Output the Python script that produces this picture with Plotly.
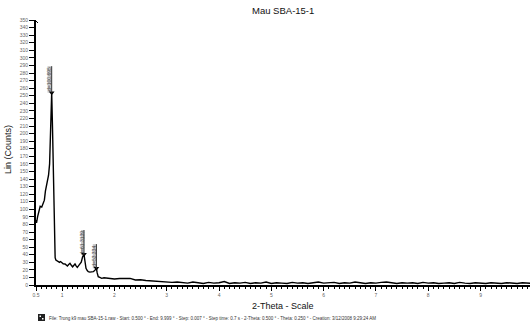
import plotly.graph_objects as go

# ---- data ----
two_theta_low = [0.50, 0.51, 0.53, 0.56, 0.58, 0.61, 0.64, 0.66, 0.68, 0.70, 0.72, 0.74, 0.76,
                 0.775, 0.79, 0.80, 0.815, 0.83, 0.845, 0.858, 0.866, 0.88, 0.907, 0.926, 0.95,
                 0.97, 0.99, 1.02, 1.055, 1.08, 1.10, 1.125, 1.15, 1.175, 1.20, 1.225, 1.246,
                 1.27, 1.29, 1.315, 1.34, 1.365, 1.39, 1.405, 1.418, 1.435, 1.456, 1.48, 1.50,
                 1.53, 1.56, 1.596, 1.62, 1.64, 1.655, 1.67, 1.69, 1.72, 1.756, 1.80]
counts_low = [86, 82, 90, 100, 104, 103, 108, 112, 124, 132, 137, 145, 160,
              190, 225, 254, 210, 150, 95, 55, 36, 33, 32, 31.5, 30,
              31, 29.5, 28, 27.7, 26, 25, 27, 28.6, 26, 24, 26, 27.7,
              25, 23.3, 25.5, 27.7, 30, 37, 39.5, 40.5, 32, 22, 19, 17.6,
              17, 17.4, 17.6, 19, 21, 22, 16, 11, 10, 8.8, 9.5]

two_theta_high = [round(1.9 + 0.1 * i, 2) for i in range(82)]
counts_high = [9, 8, 8.5, 9, 8.8, 6.6, 7, 6, 5.5, 5, 4.5, 3.5,
               3.5, 4, 3, 2.5, 4, 3, 2, 3.5, 2.5, 3, 4.5, 2, 3,
               2.5, 3.5, 2, 3, 2.5, 4, 2, 3, 2.5, 2, 3.5, 2.5, 3,
               2, 3, 4, 2.5, 3, 3.5, 2, 3, 2.5, 4, 3, 2, 3,
               2.5, 3.5, 4, 3, 2, 3, 2.5, 3, 2, 3.5, 2.5, 3,
               2, 2.5, 3, 2, 3.5, 2.5, 2, 3, 2.5, 2, 3, 2.5,
               2, 3, 2.5, 2, 3, 2.5, 2]

peak_x = [0.80, 1.418, 1.655]
peak_y = [254, 40.5, 22]
peak_labels = ["d=100.695", "d=61.3139", "d=53.334"]
box_left = [0.72, 1.36, 1.585]
box_top = [289, 72.6, 54]

x_tickvals = [0.5, 1, 2, 3, 4, 5, 6, 7, 8, 9]
x_ticktext = ["0.5", "1", "2", "3", "4", "5", "6", "7", "8", "9"]

title_text = "Mau SBA-15-1"
x_title = "2-Theta - Scale"
y_title = "Lin (Counts)"
footer = ("File: Trong k9 mau SBA-15-1.raw - Start: 0.500 \u00b0 - End: 9.999 \u00b0 - Step: 0.007 \u00b0 - "
          "Step time: 0.7 s - 2-Theta: 0.500 \u00b0 - Theta: 0.250 \u00b0 - Creation: 3/12/2008 9:29:24 AM")

W, H = 530, 324
L, R, T, B = 36, 0, 20, 39
pw, ph = W - L - R, H - T - B


def px(x):
    return (x - L) / pw


def py(y):
    return (H - B - y) / ph


fig = go.Figure()
fig.add_trace(go.Scatter(x=two_theta_low + two_theta_high, y=counts_low + counts_high,
                         mode="lines", line=dict(color="black", width=1.4),
                         showlegend=False, hoverinfo="skip"))

shapes = []
annotations = []
for i in range(len(peak_x)):
    shapes.append(dict(type="rect", xref="x", yref="y", x0=box_left[i], x1=peak_x[i],
                       y0=peak_y[i], y1=box_top[i], fillcolor="#c8c8c8",
                       line=dict(width=0), layer="below"))
    shapes.append(dict(type="line", xref="x", yref="y", x0=peak_x[i], x1=peak_x[i],
                       y0=peak_y[i], y1=box_top[i], line=dict(color="#333", width=1)))
    annotations.append(dict(x=(box_left[i] + peak_x[i]) / 2, y=(peak_y[i] + box_top[i]) / 2,
                            xref="x", yref="y", text=peak_labels[i], textangle=-90,
                            xanchor="center", yanchor="middle",
                            showarrow=False, font=dict(size=5, color="#444", family="Liberation Sans")))

fig.add_trace(go.Scatter(x=peak_x, y=peak_y, mode="markers",
                         marker=dict(symbol="triangle-down", size=5, color="black"),
                         showlegend=False, hoverinfo="skip"))

# title and axis titles
annotations.append(dict(x=px(283), y=py(10), xref="paper", yref="paper", text=title_text,
                        xanchor="center", yanchor="middle",
                        showarrow=False, font=dict(size=9.5, color="#111", family="Liberation Sans")))
annotations.append(dict(x=px(283), y=py(306), xref="paper", yref="paper", text=x_title,
                        xanchor="center", yanchor="middle",
                        showarrow=False, font=dict(size=9, color="#111", family="Liberation Sans")))
annotations.append(dict(x=px(8), y=py(150), xref="paper", yref="paper", text=y_title, textangle=-90,
                        xanchor="center", yanchor="middle",
                        showarrow=False, font=dict(size=9, color="#111", family="Liberation Sans")))
annotations.append(dict(x=px(47), y=py(318), xref="paper", yref="paper", text=footer,
                        xanchor="left", yanchor="middle", showarrow=False,
                        font=dict(size=4.5, color="#333", family="Liberation Sans")))

# footer icon
shapes.append(dict(type="rect", xref="paper", yref="paper", x0=px(38), x1=px(45), y0=py(321), y1=py(314),
                   fillcolor="#222", line=dict(width=0)))
shapes.append(dict(type="rect", xref="paper", yref="paper", x0=px(39.5), x1=px(41), y0=py(317), y1=py(315.5),
                   fillcolor="white", line=dict(width=0)))
shapes.append(dict(type="rect", xref="paper", yref="paper", x0=px(42), x1=px(43.5), y0=py(319.5), y1=py(318),
                   fillcolor="white", line=dict(width=0)))
# small mark at top of y axis
shapes.append(dict(type="line", xref="paper", yref="paper", x0=px(35), x1=px(38), y0=py(20), y1=py(23),
                   line=dict(color="black", width=1)))

fig.update_layout(
    width=W, height=H, margin=dict(l=L, r=R, t=T, b=B),
    paper_bgcolor="white", plot_bgcolor="white",
    shapes=shapes, annotations=annotations,
    font=dict(family="Liberation Sans"),
    xaxis=dict(range=[0.5, 0.5 + pw / 52.3], showgrid=False, zeroline=False,
               showline=True, linecolor="black", linewidth=1.5,
               tickvals=x_tickvals, ticktext=x_ticktext, ticks="outside", ticklen=4,
               tickwidth=1, tickcolor="black", tickfont=dict(size=5, color="#666"),
               minor=dict(dtick=0.1, tick0=0.5, ticks="outside", ticklen=2.5, tickwidth=1,
                          tickcolor="black", showgrid=False)),
    yaxis=dict(range=[0, 350], showgrid=False, zeroline=False,
               showline=True, linecolor="black", linewidth=2,
               dtick=10, tick0=0, ticks="outside", ticklen=5, tickwidth=1, tickcolor="black",
               tickfont=dict(size=5, color="#666")),
)

fig.write_html("out.html")
